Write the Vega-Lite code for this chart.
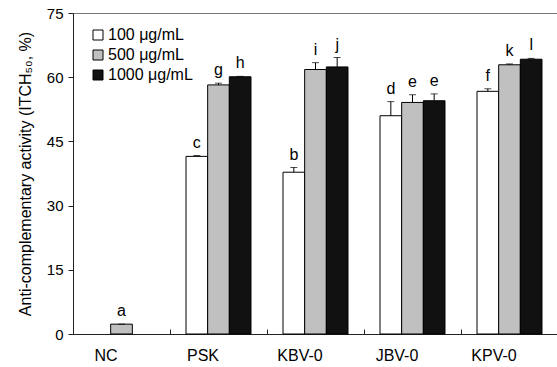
{
  "$schema": "https://vega.github.io/schema/vega-lite/v6.json",
  "width": 485,
  "height": 321,
  "autosize": {"type": "none"},
  "padding": {"left": 73, "top": 13, "right": 0, "bottom": 33},
  "background": "white",
  "config": {
    "font": "Liberation Sans",
    "view": {"stroke": "#777", "strokeWidth": 1},
    "axis": {"domainColor": "#222", "tickColor": "#222", "labelColor": "black", "titleColor": "black", "grid": false, "labelFontSize": 15, "titleFontSize": 16, "titleFontWeight": "normal"}
  },
  "data": {
    "values": [
      {"group": "NC", "conc": "500 μg/mL", "value": 2.3, "upper": 2.3, "letter": "a"},
      {"group": "PSK", "conc": "100 μg/mL", "value": 41.5, "upper": 41.7, "letter": "c"},
      {"group": "PSK", "conc": "500 μg/mL", "value": 58.2, "upper": 58.6, "letter": "g"},
      {"group": "PSK", "conc": "1000 μg/mL", "value": 60.1, "upper": 60.2, "letter": "h"},
      {"group": "KBV-0", "conc": "100 μg/mL", "value": 37.8, "upper": 38.9, "letter": "b"},
      {"group": "KBV-0", "conc": "500 μg/mL", "value": 61.8, "upper": 63.4, "letter": "i"},
      {"group": "KBV-0", "conc": "1000 μg/mL", "value": 62.4, "upper": 64.6, "letter": "j"},
      {"group": "JBV-0", "conc": "100 μg/mL", "value": 51.0, "upper": 54.3, "letter": "d"},
      {"group": "JBV-0", "conc": "500 μg/mL", "value": 54.1, "upper": 55.9, "letter": "e"},
      {"group": "JBV-0", "conc": "1000 μg/mL", "value": 54.5, "upper": 56.1, "letter": "e"},
      {"group": "KPV-0", "conc": "100 μg/mL", "value": 56.7, "upper": 57.3, "letter": "f"},
      {"group": "KPV-0", "conc": "500 μg/mL", "value": 62.9, "upper": 63.1, "letter": "k"},
      {"group": "KPV-0", "conc": "1000 μg/mL", "value": 64.2, "upper": 64.4, "letter": "l"}
    ]
  },
  "encoding": {
    "x": {
      "field": "group", "type": "nominal",
      "sort": ["NC", "PSK", "KBV-0", "JBV-0", "KPV-0"],
      "scale": {"paddingInner": 0.33, "paddingOuter": 0.165},
      "axis": {"title": null, "labelAngle": 0, "labelFontSize": 16, "bandPosition": 0, "tickOffset": -16, "tickSize": -5, "labelPadding": 18, "domainColor": "#222"}
    },
    "xOffset": {"field": "conc", "type": "nominal", "sort": ["100 μg/mL", "500 μg/mL", "1000 μg/mL"], "scale": {"paddingInner": 0}}
  },
  "layer": [
    {
      "mark": {"type": "bar", "stroke": "black", "strokeWidth": 1},
      "encoding": {
        "y": {"field": "value", "type": "quantitative", "scale": {"domain": [0, 75], "nice": false}, "axis": {"values": [0, 15, 30, 45, 60, 75], "tickSize": 5, "labelPadding": 5, "title": "Anti-complementary activity (ITCH₅₀, %)", "titlePadding": 13}},
        "color": {
          "field": "conc", "type": "nominal",
          "scale": {"domain": ["100 μg/mL", "500 μg/mL", "1000 μg/mL"], "range": ["#ffffff", "#c0c0c0", "#111111"]},
          "legend": {"title": null, "orient": "none", "legendX": 17, "legendY": 14, "symbolType": "square", "symbolSize": 100, "symbolStrokeColor": "black", "symbolStrokeWidth": 1, "labelFontSize": 16, "labelOffset": 2, "rowPadding": 4, "labelColor": "black"}
        }
      }
    },
    {
      "mark": {"type": "rule", "color": "black", "strokeWidth": 1},
      "encoding": {"y": {"field": "value", "type": "quantitative"}, "y2": {"field": "upper"}}
    },
    {
      "mark": {"type": "tick", "color": "black", "size": 7, "thickness": 1, "orient": "horizontal"},
      "encoding": {"y": {"field": "upper", "type": "quantitative"}}
    },
    {
      "mark": {"type": "text", "baseline": "bottom", "dy": -5, "fontSize": 16, "color": "black"},
      "encoding": {"y": {"field": "upper", "type": "quantitative"}, "text": {"field": "letter"}}
    }
  ]
}
